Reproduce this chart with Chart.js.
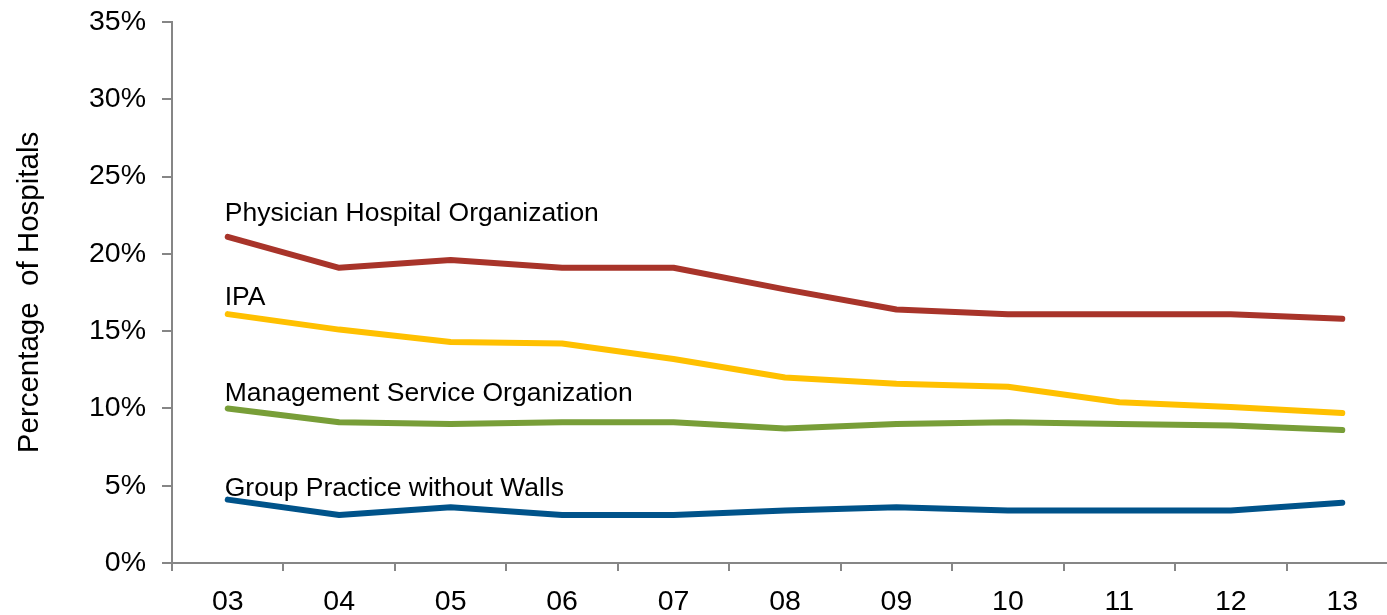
<!DOCTYPE html>
<html>
<head>
<meta charset="utf-8">
<script src="https://cdn.jsdelivr.net/npm/chart.js@4/dist/chart.umd.min.js"></script>
<style>
  html, body { margin: 0; padding: 0; background: #fff; overflow: hidden; }
  #wrap { width: 1400px; height: 615px; }
</style>
</head>
<body>
<div id="wrap"><canvas id="myChart" width="1400" height="615"></canvas></div>
<script>
// data
const years = ['03', '04', '05', '06', '07', '08', '09', '10', '11', '12', '13'];
const pho = [21.1, 19.1, 19.6, 19.1, 19.1, 17.7, 16.4, 16.1, 16.1, 16.1, 15.8];
const ipa = [16.1, 15.1, 14.3, 14.2, 13.2, 12.0, 11.6, 11.4, 10.4, 10.1, 9.7];
const mso = [10.0, 9.1, 9.0, 9.1, 9.1, 8.7, 9.0, 9.1, 9.0, 8.9, 8.6];
const gpww = [4.1, 3.1, 3.6, 3.1, 3.1, 3.4, 3.6, 3.4, 3.4, 3.4, 3.9];
const names = ['Physician Hospital Organization', 'IPA', 'Management Service Organization', 'Group Practice without Walls'];

const axisGrey = '#868686';
const font = 'Liberation Sans, Arial, sans-serif';

function line(label, values, colour, labelLift) {
  return {
    label: label,
    data: values,
    borderColor: colour,
    backgroundColor: colour,
    borderWidth: 6,
    pointRadius: 0,
    tension: 0,
    borderCapStyle: 'round',
    borderJoinStyle: 'round',
    labelLift: labelLift
  };
}

// text next to the start of each line
const lineLabels = {
  id: 'lineLabels',
  afterDatasetsDraw(chart) {
    const ctx = chart.ctx;
    ctx.save();
    ctx.font = '26.5px ' + font;
    ctx.fillStyle = '#000';
    ctx.textAlign = 'left';
    ctx.textBaseline = 'alphabetic';
    chart.data.datasets.forEach((ds, i) => {
      const p = chart.getDatasetMeta(i).data[0];
      ctx.fillText(ds.label, p.x - 3, p.y - ds.labelLift);
    });
    ctx.restore();
  }
};

const data = {
  labels: years,
  datasets: [
    line(names[0], pho, '#A8342A', 16),
    line(names[1], ipa, '#FFC000', 9),
    line(names[2], mso, '#789E38', 7),
    line(names[3], gpww, '#00538A', 4)
  ]
};

const config = {
  type: 'line',
  data: data,
  options: {
    responsive: false,
    animation: false,
    layout: { padding: { top: 22, right: 2, left: 0, bottom: 0 } },
    plugins: {
      legend: { display: false },
      tooltip: { enabled: false }
    },
    scales: {
      x: {
        offset: true,
        grid: { offset: true, drawOnChartArea: false, drawTicks: true, tickLength: 8, color: axisGrey, lineWidth: 2 },
        border: { color: axisGrey, width: 2 },
        ticks: { color: '#000', font: { family: font, size: 28.5 }, padding: 14, maxRotation: 0 },
        afterFit(scale) { scale.height = 52; scale.paddingLeft = 0; scale.paddingRight = 0; }
      },
      y: {
        min: 0,
        max: 35,
        grid: { drawOnChartArea: false, drawTicks: true, tickLength: 10, color: axisGrey, lineWidth: 2 },
        border: { color: axisGrey, width: 2 },
        ticks: {
          stepSize: 5,
          color: '#000',
          font: { family: font, size: 28.5 },
          padding: 16,
          callback: v => v + '%'
        },
        title: {
          display: true,
          text: 'Percentage  of Hospitals',
          color: '#000',
          font: { family: font, size: 29.5 },
          padding: { top: 12, bottom: 0 }
        },
        afterFit(scale) { scale.width = 172; scale.paddingTop = 0; scale.paddingBottom = 0; }
      }
    }
  },
  plugins: [lineLabels]
};

const myChart = new Chart('myChart', config);
</script>
</body>
</html>
